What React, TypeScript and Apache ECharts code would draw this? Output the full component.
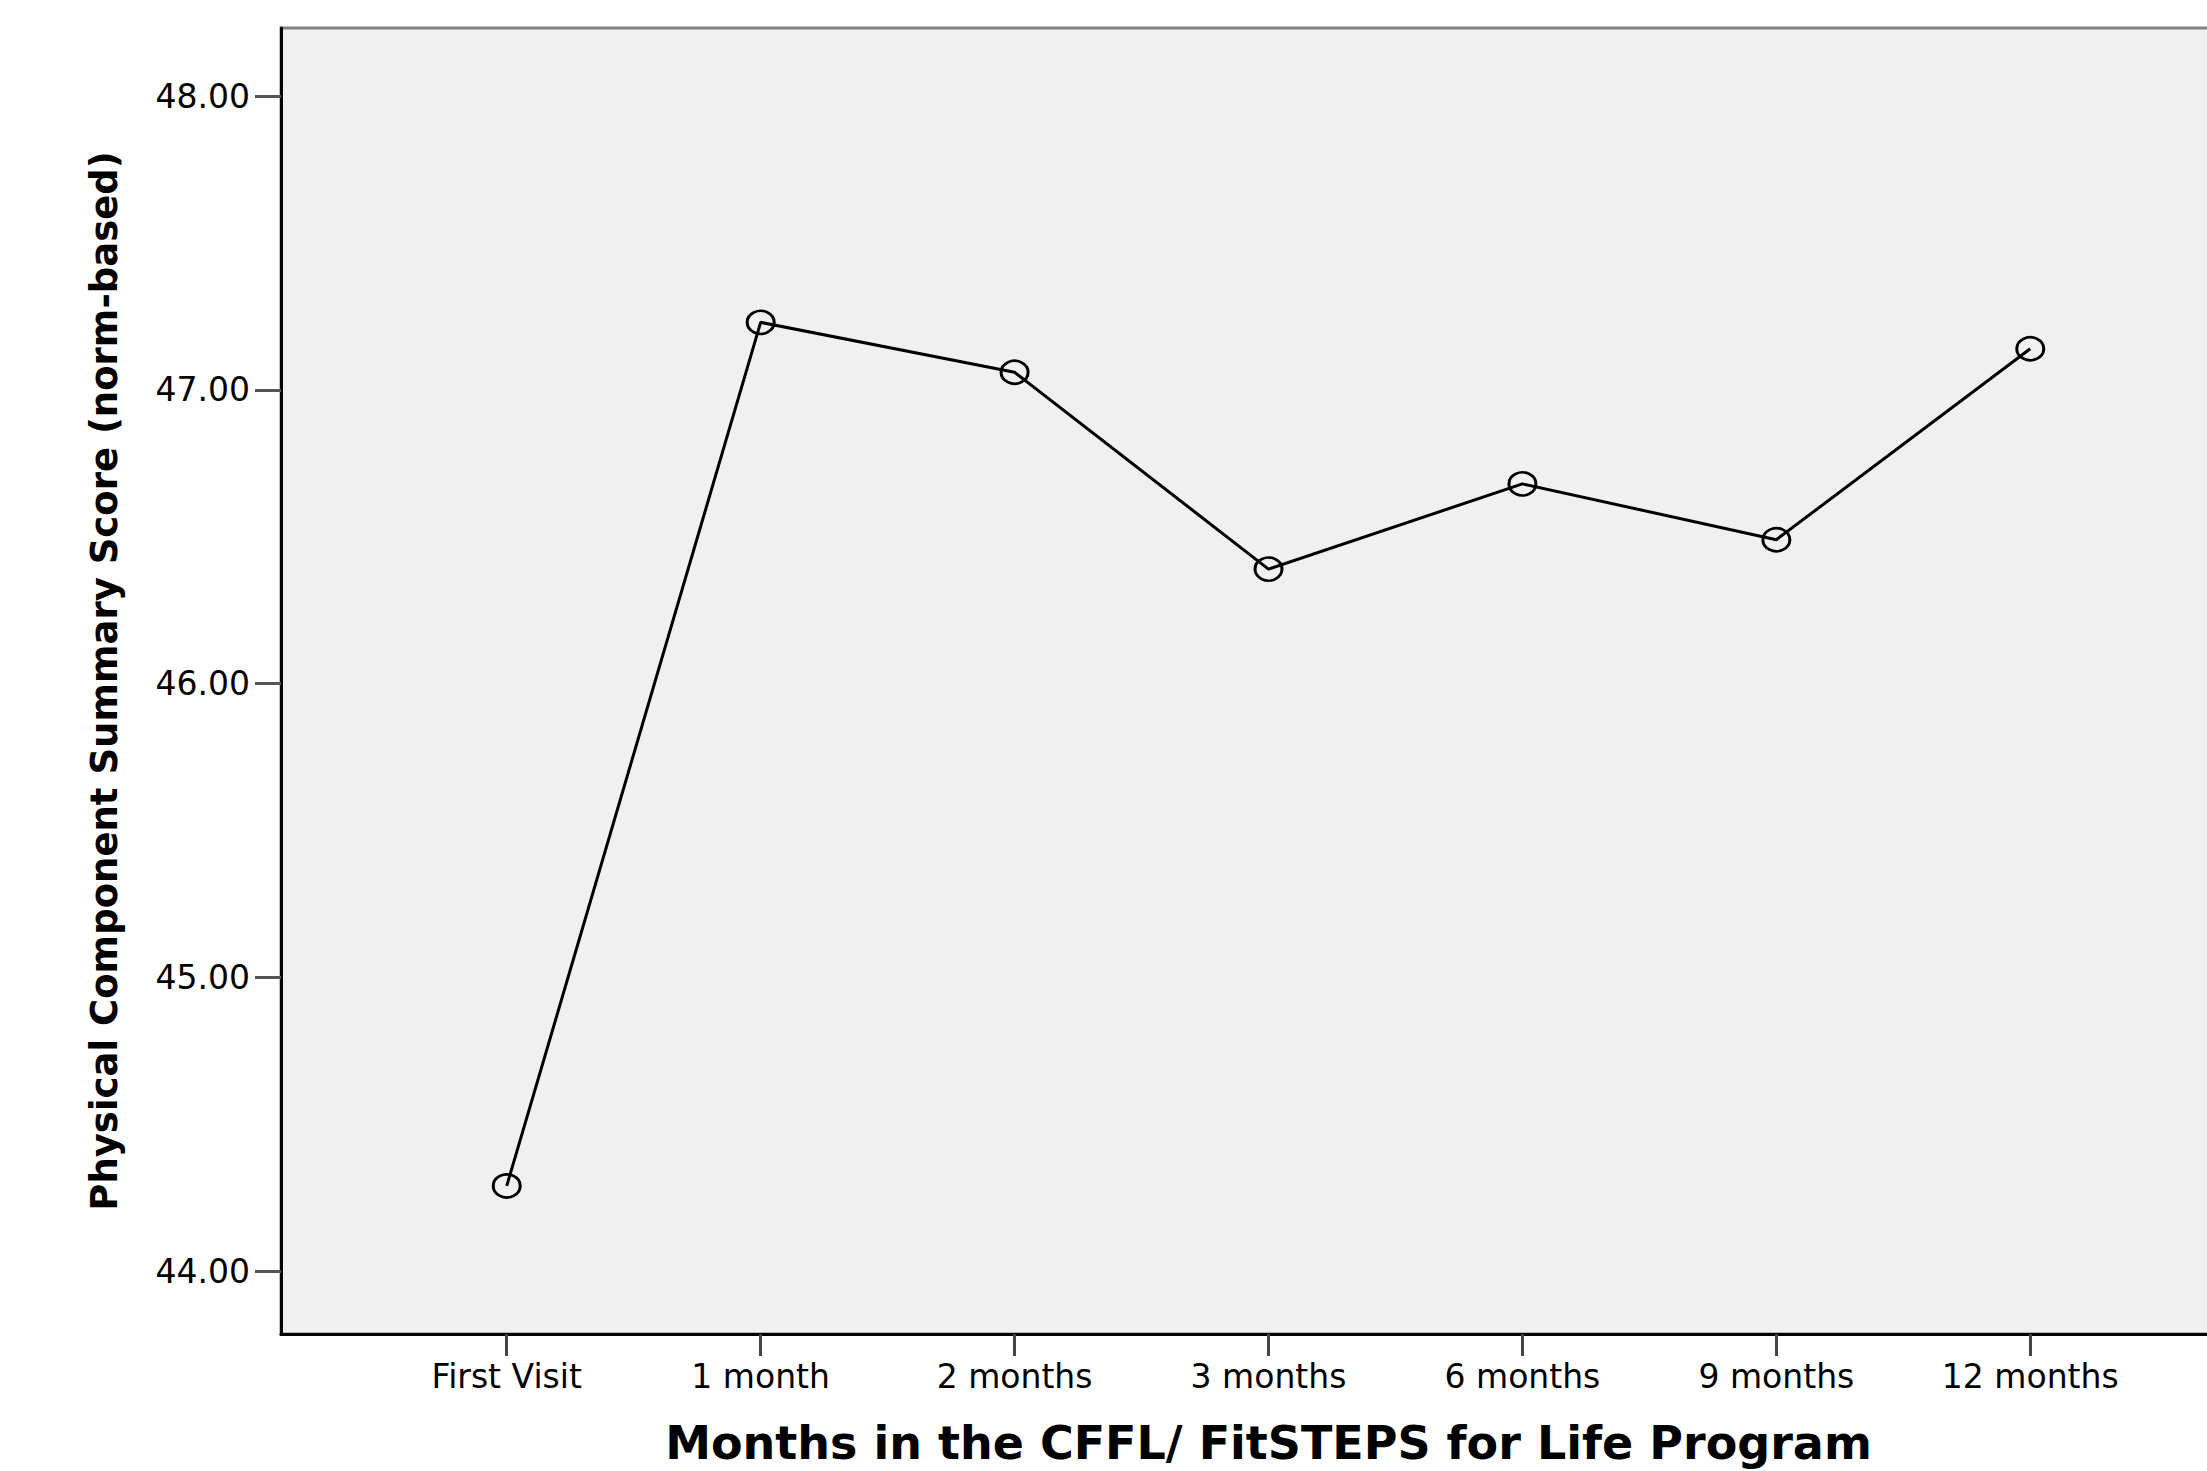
import React, { useEffect, useRef } from "react";
import * as echarts from "echarts";

const categories = ["First Visit", "1 month", "2 months", "3 months", "6 months", "9 months", "12 months"];
const scores = [44.29, 47.23, 47.06, 46.39, 46.68, 46.49, 47.14];
const yTicks = [44, 45, 46, 47, 48];
const xTicks = [0, 1, 2, 3, 4, 5, 6];

const xTitle = "Months in the CFFL/ FitSTEPS for Life Program";
const yTitle = "Physical Component Summary Score (norm-based)";

export default function App() {
  const ref = useRef<HTMLDivElement>(null);
  useEffect(() => {
    if (!ref.current) return;
    const chart = echarts.init(ref.current, null, { renderer: "svg" });
    const data = scores.map((v, i) => [i, v]);
    chart.setOption({
      animation: false,
      backgroundColor: "#ffffff",
      grid: {
        left: 281,
        top: 28,
        right: 4,
        bottom: 137,
        show: true,
        backgroundColor: "#f0f0f0",
        borderColor: "#808080",
        borderWidth: 3,
      },
      xAxis: {
        type: "value",
        min: -0.889,
        max: 6.889,
        name: xTitle,
        nameLocation: "middle",
        nameGap: 86,
        nameTextStyle: {
          fontFamily: "DejaVu Sans",
          fontWeight: "bold",
          fontSize: 46,
          color: "#000",
        },
        splitLine: { show: false },
        axisLine: { show: true, onZero: false, lineStyle: { color: "#000", width: 3 } },
        axisTick: {
          show: true,
          length: 22,
          customValues: xTicks,
          lineStyle: { color: "#444", width: 3 },
        },
        axisLabel: {
          customValues: xTicks,
          margin: 26,
          fontFamily: "DejaVu Sans",
          fontSize: 33,
          color: "#000",
          formatter: (v: number) => categories[Math.round(v)] ?? "",
        },
      },
      yAxis: {
        type: "value",
        min: 43.786,
        max: 48.232,
        name: yTitle,
        nameLocation: "middle",
        nameGap: 158,
        nameTextStyle: {
          fontFamily: "DejaVu Sans",
          fontWeight: "bold",
          fontSize: 37,
          color: "#000",
        },
        splitLine: { show: false },
        axisLine: { show: true, onZero: false, lineStyle: { color: "#000", width: 3 } },
        axisTick: {
          show: true,
          length: 26,
          customValues: yTicks,
          lineStyle: { color: "#555", width: 3 },
        },
        axisLabel: {
          customValues: yTicks,
          margin: 31,
          fontFamily: "DejaVu Sans",
          fontSize: 33,
          color: "#000",
          formatter: (v: number) => v.toFixed(2),
        },
      },
      series: [
        {
          type: "line",
          data,
          symbol: "circle",
          symbolSize: [27, 23],
          lineStyle: { color: "#000", width: 3 },
          itemStyle: { color: "rgba(0,0,0,0)", borderColor: "#000", borderWidth: 2.8 },
          emphasis: { disabled: true },
          z: 3,
        },
      ],
    });
    return () => chart.dispose();
  }, []);
  return (
    <div style={{ position: "fixed", left: 0, top: 0, width: 2207, height: 1471, overflow: "hidden" }}>
      <div ref={ref} style={{ width: 2260, height: 1471 }} />
    </div>
  );
}
